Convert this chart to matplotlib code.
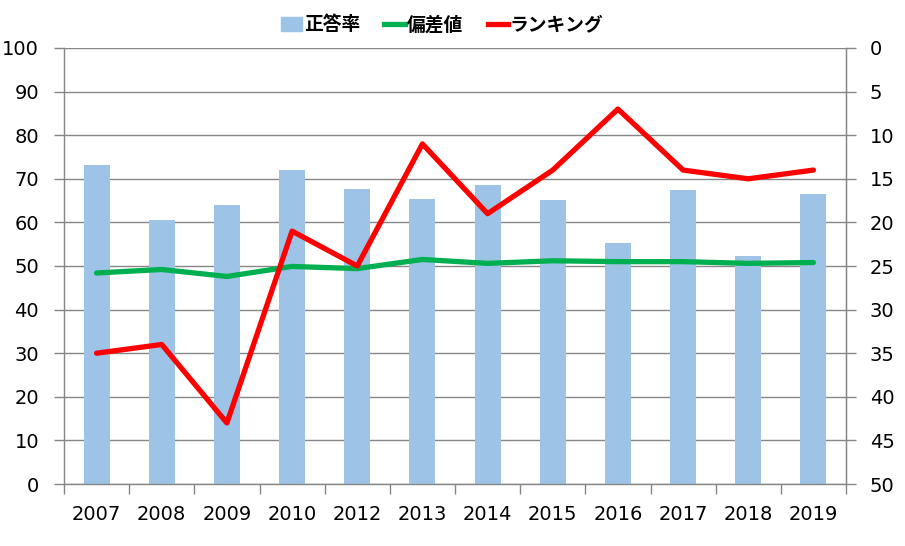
import matplotlib
matplotlib.use("Agg")
import matplotlib.pyplot as plt
import numpy as np
from matplotlib.patches import Patch
from matplotlib.lines import Line2D

plt.rcParams['font.family'] = ['DejaVu Sans', 'Noto Sans CJK JP']

years = ["2007", "2008", "2009", "2010", "2012", "2013", "2014", "2015", "2016", "2017", "2018", "2019"]
correct_rate = [73.2, 60.5, 64.0, 72.0, 67.6, 65.4, 68.6, 65.1, 55.3, 67.4, 52.3, 66.5]
deviation = [48.4, 49.2, 47.6, 49.9, 49.4, 51.5, 50.6, 51.2, 51.0, 51.0, 50.6, 50.8]
ranking = [35, 34, 43, 21, 25, 11, 19, 14, 7, 14, 15, 14]

bar_color = "#9DC3E6"
green = "#00B050"
red = "#FF0000"
grid_c = "#868686"

fig = plt.figure(figsize=(9.05, 5.46), dpi=100)
ax = fig.add_axes([64/905, 1-484/546, (846-64)/905, (484-48)/546])
x = np.arange(len(years))

ax.bar(x, correct_rate, width=0.4, color=bar_color, zorder=2)
ax.plot(x, deviation, color=green, lw=3.8, zorder=3, solid_capstyle='round')
ax.set_xlim(-0.5, len(years)-0.5)
ax.set_ylim(0, 100)
ax.set_yticks(np.arange(0, 101, 10))
ax.grid(axis='y', color=grid_c, lw=1, zorder=1)
ax.set_axisbelow(True)

ax.set_xticks(np.arange(-0.5, len(years), 1))
ax.set_xticklabels([])
ax.set_xticks(x, minor=True)
ax.set_xticklabels(years, minor=True)
ax.tick_params(axis='x', which='major', length=7, color=grid_c, width=1)
ax.tick_params(axis='x', which='minor', length=0, pad=15, labelsize=14)
ax.tick_params(axis='y', length=7, color=grid_c, width=1, pad=11, labelsize=14)

for s in ['top']:
    ax.spines[s].set_visible(False)
for s in ['left', 'right', 'bottom']:
    ax.spines[s].set_color(grid_c)
    ax.spines[s].set_linewidth(1)

ax2 = ax.twinx()
ax2.plot(x, ranking, color=red, lw=3.8, zorder=4, solid_capstyle='round')
ax2.set_ylim(50, 0)
ax2.set_yticks(np.arange(0, 51, 5))
ax2.tick_params(axis='y', length=7, color=grid_c, width=1, pad=10, labelsize=14)
for s in ['top', 'left', 'bottom']:
    ax2.spines[s].set_visible(False)
ax2.spines['right'].set_color(grid_c)

handles = [Patch(color=bar_color), Line2D([], [], color=green, lw=3.8), Line2D([], [], color=red, lw=3.8)]
labels = ["正答率", "偏差値", "ランキング"]
fig.legend(handles, labels, loc='center', bbox_to_anchor=(0.489, 1-25/546), ncol=3, frameon=False,
           prop={'size': 13.5, 'weight': 'bold', 'family': ['Noto Sans CJK JP']},
           handlelength=1.1, handletextpad=0.1, columnspacing=1.3)

fig.savefig("out.png", dpi=100)
